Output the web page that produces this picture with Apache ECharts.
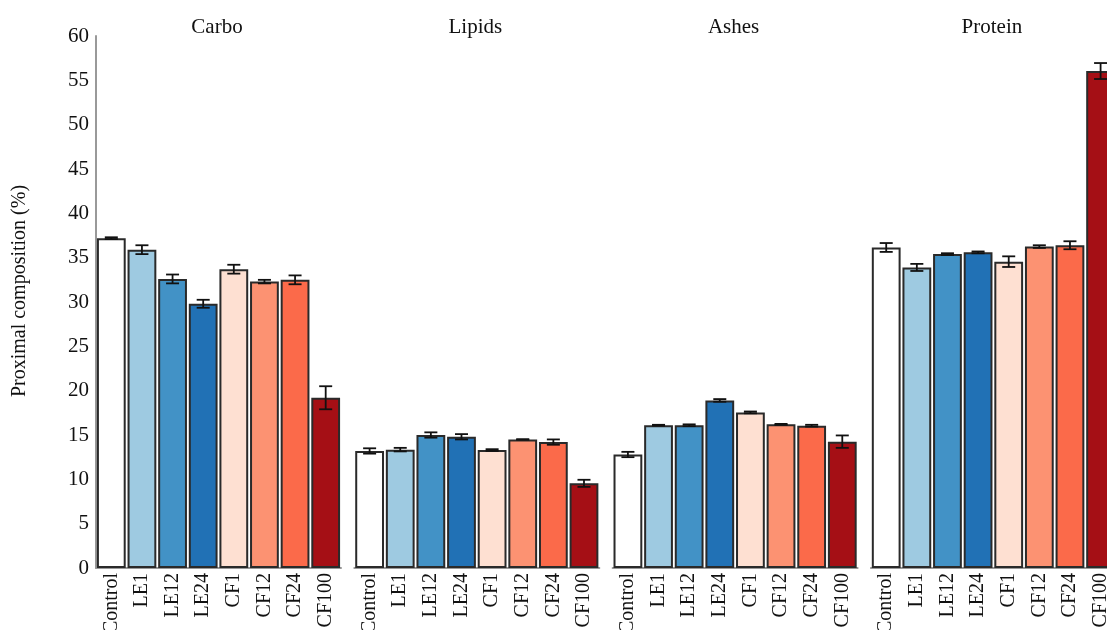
<!DOCTYPE html>
<html>
<head>
<meta charset="utf-8">
<script src="https://cdn.jsdelivr.net/npm/echarts@6/dist/echarts.min.js"></script>
<style>
  html, body { margin: 0; padding: 0; background: #fff; }
  #main { width: 1107px; height: 630px; }
</style>
</head>
<body>
<div id="main"></div>
<script>
// categories and panels
var groups = ['Control', 'LE1', 'LE12', 'LE24', 'CF1', 'CF12', 'CF24', 'CF100'];
var panels = ['Carbo', 'Lipids', 'Ashes', 'Protein'];
var colors = ['#ffffff', '#9ecae1', '#4292c6', '#2171b5', '#fee0d2', '#fc9272', '#fb6a4a', '#a50f15'];

// means (%)
var carbo   = [37.2, 35.9, 32.6, 29.8, 33.7, 32.3, 32.5, 19.2];
var lipids  = [13.2, 13.35, 15.0, 14.8, 13.3, 14.5, 14.2, 9.55];
var ashes   = [12.8, 16.1, 16.1, 18.9, 17.55, 16.2, 16.05, 14.25];
var protein = [36.15, 33.9, 35.4, 35.6, 34.55, 36.25, 36.4, 56.05];

// error bar half widths
var carboErr   = [0.1, 0.5, 0.5, 0.45, 0.5, 0.2, 0.5, 1.3];
var lipidsErr  = [0.3, 0.2, 0.3, 0.3, 0.1, 0.02, 0.3, 0.4];
var ashesErr   = [0.3, 0.05, 0.1, 0.15, 0.1, 0.05, 0.1, 0.7];
var proteinErr = [0.5, 0.4, 0.1, 0.1, 0.6, 0.15, 0.45, 0.9];

var yTicks = { min: 0, max: 60, interval: 5 };

var means = [carbo, lipids, ashes, protein];
var errs = [carboErr, lipidsErr, ashesErr, proteinErr];

var serif = '"Liberation Serif", "DejaVu Serif", serif';
var left0 = 96, step = 258.3, w = 245;

var myChart = echarts.init(document.getElementById('main'));

var grids = [], xAxes = [], yAxes = [], series = [], titles = [];

panels.forEach(function (name, i) {
    grids.push({ left: left0 + i * step, width: w, top: 36, bottom: 62, outerBoundsMode: 'none', containLabel: false });
    titles.push({
        text: name,
        left: left0 + i * step + 116,
        top: 12,
        textAlign: 'center',
        textStyle: { fontFamily: serif, fontSize: 21, fontWeight: 'normal', color: '#111' }
    });
    xAxes.push({
        type: 'category',
        gridIndex: i,
        data: groups,
        axisLine: { lineStyle: { color: '#999', width: 2 } },
        axisTick: { show: false },
        axisLabel: { rotate: 90, interval: 0, margin: 5, fontFamily: serif, fontSize: 20, color: '#111' }
    });
    yAxes.push({
        type: 'value',
        gridIndex: i,
        min: yTicks.min, max: yTicks.max, interval: yTicks.interval,
        name: i === 0 ? 'Proximal composition (%)' : '',
        nameLocation: 'middle',
        nameGap: 66,
        nameTextStyle: { fontFamily: serif, fontSize: 20, color: '#111', padding: [0, 0, 0, 22] },
        axisLine: { show: i === 0, lineStyle: { color: '#999', width: 2 } },
        axisTick: { show: false },
        axisLabel: { show: i === 0, margin: 7, fontFamily: serif, fontSize: 21, color: '#111' },
        splitLine: { show: false }
    });

    series.push({
        type: 'bar',
        xAxisIndex: i,
        yAxisIndex: i,
        barCategoryGap: '6%',
        data: means[i].map(function (v, j) {
            return { value: v, itemStyle: { color: colors[j] } };
        }),
        itemStyle: { borderColor: '#2a2a2a', borderWidth: 2 },
        silent: true
    });

    series.push({
        type: 'custom',
        xAxisIndex: i,
        yAxisIndex: i,
        z: 5,
        silent: true,
        data: means[i].map(function (v, j) { return [j, v, errs[i][j]]; }),
        renderItem: function (params, api) {
            var x = api.value(0), m = api.value(1), e = api.value(2);
            var hi = api.coord([x, m + e]);
            var lo = api.coord([x, m - e]);
            var cap = 6.5;
            var st = { stroke: '#111', lineWidth: 1.8 };
            return {
                type: 'group',
                children: [
                    { type: 'line', shape: { x1: hi[0], y1: hi[1], x2: lo[0], y2: lo[1] }, style: st },
                    { type: 'line', shape: { x1: hi[0] - cap, y1: hi[1], x2: hi[0] + cap, y2: hi[1] }, style: st },
                    { type: 'line', shape: { x1: lo[0] - cap, y1: lo[1], x2: lo[0] + cap, y2: lo[1] }, style: st }
                ]
            };
        }
    });
});

var option = {
    backgroundColor: '#ffffff',
    animation: false,
    title: titles,
    grid: grids,
    xAxis: xAxes,
    yAxis: yAxes,
    series: series
};

option && myChart.setOption(option);
</script>
</body>
</html>
